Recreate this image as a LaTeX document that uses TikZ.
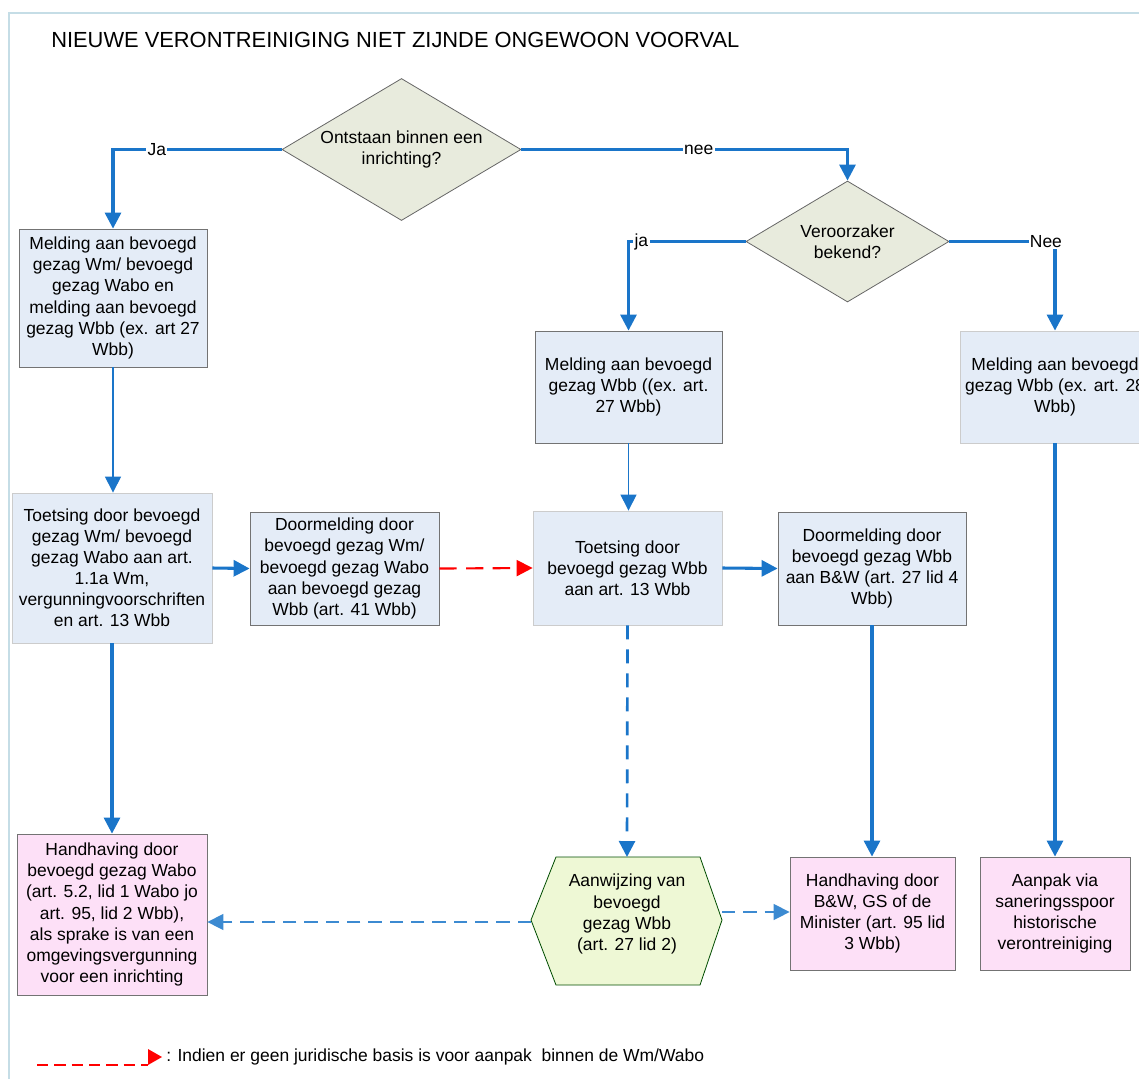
\documentclass[tikz,border=0pt]{standalone}
\usepackage{fontspec}
\setmainfont{Liberation Sans}
\usetikzlibrary{arrows.meta,shapes.geometric}
\definecolor{lnblue}{HTML}{1A75C9}
\definecolor{boxblue}{HTML}{E4ECF7}
\definecolor{boxpink}{HTML}{FDE0F7}
\definecolor{dmfill}{HTML}{E8EBDD}
\definecolor{hexfill}{HTML}{EEF8D5}
\definecolor{framec}{HTML}{C5DDE6}
\begin{document}
\begin{tikzpicture}[x=0.75pt,y=-0.75pt,
 every node/.style={font=\fontsize{13.1pt}{15.8pt}\selectfont, text=black},
 bx/.style={draw=black!55, line width=0.6pt, fill=boxblue, align=center, inner sep=0pt},
 bxl/.style={bx, draw=black!20},
 pk/.style={bx, fill=boxpink},
 dm/.style={diamond, aspect=1.68, draw=black!60, line width=0.6pt, fill=dmfill, align=center, inner sep=0pt},
 tip/.style={-{Triangle[length=12pt,width=12pt]}},
 flow/.style={lnblue, line width=2.3pt, tip},
 thinflow/.style={lnblue, line width=0.8pt, tip},
 dflow/.style={lnblue, line width=2pt, dash pattern=on 10.5pt off 7.5pt, tip},
 dthin/.style={lnblue!85, line width=1.1pt, dash pattern=on 10pt off 6pt, tip},
 redflow/.style={red, line width=1.6pt, dash pattern=on 13pt off 7pt, -{Triangle[length=12pt,width=12pt]}},
 lbl/.style={fill=white, inner sep=1pt},
]
\useasboundingbox (0,0) rectangle (1139,1079);
\clip (0,0) rectangle (1139,1079);
% frame
\draw[framec, line width=0.8pt] (9,1079) -- (9,13) -- (1139,13);
% title
\node[anchor=west, inner sep=0pt, font=\fontsize{16.4pt}{18pt}\selectfont] (title) at (51,40) {NIEUWE VERONTREINIGING NIET ZIJNDE ONGEWOON VOORVAL};
% diamonds
\node[dm, minimum width=179.25pt, minimum height=106.5pt] (d1) at (401.5,149.5) {Ontstaan binnen een\\inrichting?};
\node[dm, minimum width=152.25pt, minimum height=90.75pt] (d2) at (847.5,241.5) {Veroorzaker\\bekend?};
% boxes
\node[bx, minimum width=141pt, minimum height=103.5pt] (m1) at (113,298) {Melding aan bevoegd\\gezag Wm/ bevoegd\\gezag Wabo en\\melding aan bevoegd\\gezag Wbb (ex. art 27\\Wbb)};
\node[bx, minimum width=140.25pt, minimum height=84pt] (m2) at (628.5,387) {Melding aan bevoegd\\gezag Wbb ((ex. art.\\27 Wbb)};
\node[bxl, minimum width=142.5pt, minimum height=84pt] (m3) at (1055,387) {Melding aan bevoegd\\gezag Wbb (ex. art. 28\\Wbb)};
\node[bxl, minimum width=150pt, minimum height=112.5pt] (t1) at (112,568) {Toetsing door bevoegd\\gezag Wm/ bevoegd\\gezag Wabo aan art.\\1.1a Wm,\\vergunningvoorschriften\\en art. 13 Wbb};
\node[bx, minimum width=141.75pt, minimum height=84.75pt] (dm1) at (344.5,568.5) {Doormelding door\\bevoegd gezag Wm/\\bevoegd gezag Wabo\\aan bevoegd gezag\\Wbb (art. 41 Wbb)};
\node[bxl, minimum width=141.75pt, minimum height=85.5pt] (t2) at (627.5,568) {Toetsing door\\bevoegd gezag Wbb\\aan art. 13 Wbb};
\node[bx, minimum width=141pt, minimum height=84.75pt] (dm2) at (872,568.5) {Doormelding door\\bevoegd gezag Wbb\\aan B\&W (art. 27 lid 4\\Wbb)};
\node[pk, minimum width=142.5pt, minimum height=120.75pt] (h1) at (112,914.5) {Handhaving door\\bevoegd gezag Wabo\\(art. 5.2, lid 1 Wabo jo\\art. 95, lid 2 Wbb),\\als sprake is van een\\omgevingsvergunning\\voor een inrichting};
\node[pk, minimum width=123.75pt, minimum height=84.75pt] (h2) at (872.5,913.5) {Handhaving door\\B\&W, GS of de\\Minister (art. 95 lid\\3 Wbb)};
\node[pk, minimum width=112.5pt, minimum height=84.75pt] (ap) at (1055,913.5) {Aanpak via\\saneringsspoor\\historische\\verontreiniging};
% hexagon
\draw[draw=black!50!green!60!black, line width=0.6pt, fill=hexfill] (531,920) -- (556,857) -- (700,857) -- (722,920) -- (700,985) -- (556,985) -- cycle;
\coordinate (hexN) at (627,857);
\coordinate (hexW) at (531,922);
\coordinate (hexE) at (722,912);
\node[align=center, inner sep=0pt] (hex) at (627,914) {Aanwijzing van\\bevoegd\\gezag Wbb\\(art. 27 lid 2)};
% connectors
\draw[flow] (d1.west) -| node[lbl, pos=0.37]{Ja} (m1.north);
\draw[flow] (d1.east) -| node[lbl, pos=0.272]{nee} (d2.north);
\draw[flow] (d2.west) -| node[lbl, pos=0.445]{ja} (m2.north);
\draw[flow] (d2.east) -| node[lbl, pos=0.457]{Nee} (m3.north);
\draw[thinflow] (m1.south) -- (m1.south |- t1.north);
\draw[flow] (t1.east) -- (dm1.west);
\draw[redflow] (dm1.east) -- (t2.west);
\draw[thinflow] (m2.south) -- (m2.south |- t2.north);
\draw[flow] (t2.east) -- (dm2.west);
\draw[dflow] (t2.south) -- (hexN);
\draw[flow] (dm2.south) -- (dm2.south |- h2.north);
\draw[flow] (m3.south) -- (m3.south |- ap.north);
\draw[flow] (t1.south) -- (t1.south |- h1.north);
\draw[dthin] (hexW) -- (h1.east |- hexW);
\draw[dthin] (hexE) -- (h2.west |- hexE);
% legend
\coordinate (lgA) at (37,1065);
\coordinate (lgB) at (148,1065);
\draw[red, line width=1.2pt, dash pattern=on 8.5pt off 4.5pt] (lgA) -- (lgB);
\fill[red] (148,1049) -- (162,1057) -- (148,1065) -- cycle;
\node[anchor=west, inner sep=0pt, font=\fontsize{13.1pt}{15pt}\selectfont] (legend) at (166,1057) {: Indien er geen juridische basis is voor aanpak\ \ binnen de Wm/Wabo};
\end{tikzpicture}
\end{document}
